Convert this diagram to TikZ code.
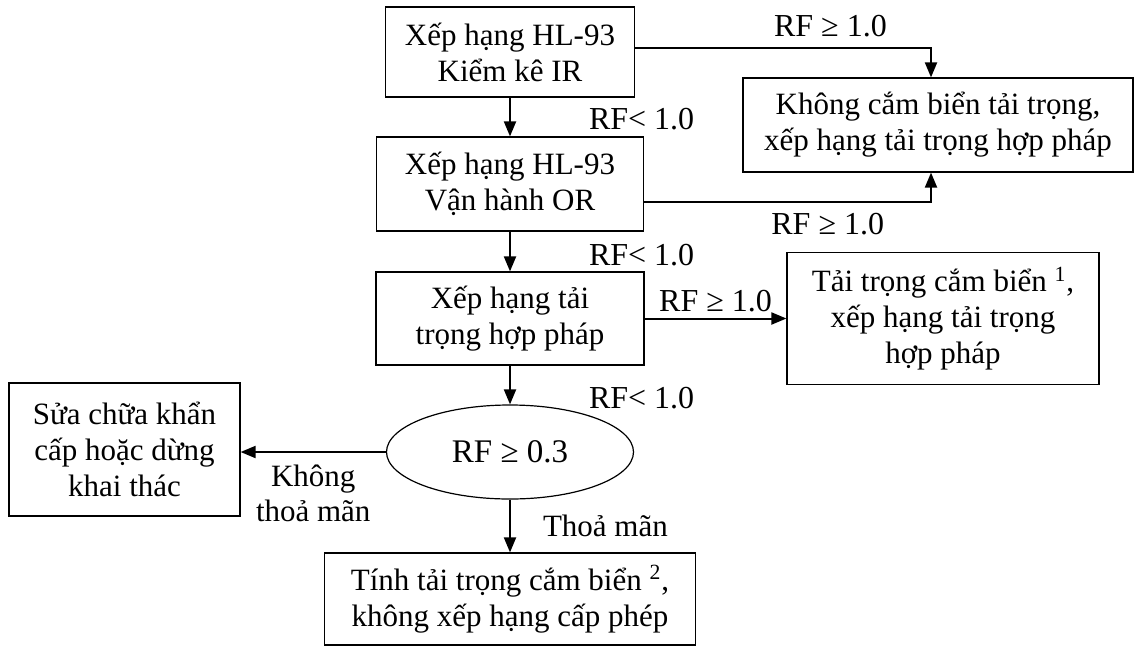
\documentclass[tikz,border=0pt]{standalone}
\usepackage{fontspec}
\setmainfont{Liberation Serif}
\usetikzlibrary{arrows.meta,shapes.geometric}

\tikzset{
  box/.style={draw, line width=0.6pt, align=center, inner sep=0pt,
    font=\fontsize{15.5}{18}\selectfont},
  rf/.style={inner sep=0pt, font=\fontsize{16}{18}\selectfont},
  lbl/.style={inner sep=0pt, align=center, font=\fontsize{15.5}{17.5}\selectfont},
  arr/.style={-{Triangle[length=7.5pt,width=6pt]}, line width=1pt}
}

\begin{document}
\begin{tikzpicture}[x=0.5pt, y=-0.5pt]
\useasboundingbox (0,0) rectangle (1134,648);

% main column
\node[box, minimum width=124.5pt, minimum height=45pt] (irate) at (510,52) {Xếp hạng HL-93\\ Kiểm kê IR};
\node[box, minimum width=133.5pt, minimum height=47pt] (orate) at (510,184) {Xếp hạng HL-93\\ Vận hành OR};
\node[box, minimum width=134pt, minimum height=46.5pt] (legal) at (510,318.5) {Xếp hạng tải\\ trọng hợp pháp};
\node[box, ellipse, minimum width=123.5pt, minimum height=47pt, font=\fontsize{16.5}{18}\selectfont] (check) at (510,452) {RF ≥ 0.3};
\node[box, minimum width=185.5pt, minimum height=46pt] (signcalc) at (510,599) {Tính tải trọng cắm biển \textsuperscript{2},\\ không xếp hạng cấp phép};

% outcomes
\node[box, minimum width=195pt, minimum height=47pt] (nopost) at (938,125) {Không cắm biển tải trọng,\\ xếp hạng tải trọng hợp pháp};
\node[box, minimum width=156pt, minimum height=66pt] (posted) at (943,318.5) {Tải trọng cắm biển \textsuperscript{1},\\ xếp hạng tải trọng\\ hợp pháp};
\node[box, minimum width=115.5pt, minimum height=66.5pt] (repair) at (124.5,449.5) {Sửa chữa khẩn\\ cấp hoặc dừng\\ khai thác};

\draw[arr] ([yshift=2pt]irate.east) -| ([xshift=-3.5pt]nopost.north)
  node[rf, pos=0.33, above=5pt] {RF ≥ 1.0};
\draw[arr] ([yshift=-9pt]orate.east) -| ([xshift=-3.5pt]nopost.south)
  node[rf, pos=0.32, below=5pt] {RF ≥ 1.0};
\draw[arr] (irate) -- (orate) node[rf, midway, right=39pt, yshift=-1pt] {RF< 1.0};
\draw[arr] (orate) -- (legal) node[rf, midway, right=39pt, yshift=-2pt] {RF< 1.0};
\draw[arr] (legal) -- (posted) node[rf, midway, above=3pt] {RF ≥ 1.0};
\draw[arr] (legal) -- (check) node[rf, midway, right=39pt, yshift=-6.5pt] {RF< 1.0};
\draw[arr] (check.west) -- (check.west -| repair.east)
  node[lbl, midway, below=6pt] {Không\\ thoả mãn};
\draw[arr] (check) -- (signcalc) node[lbl, midway, right=16pt] {Thoả mãn};
\end{tikzpicture}
\end{document}
